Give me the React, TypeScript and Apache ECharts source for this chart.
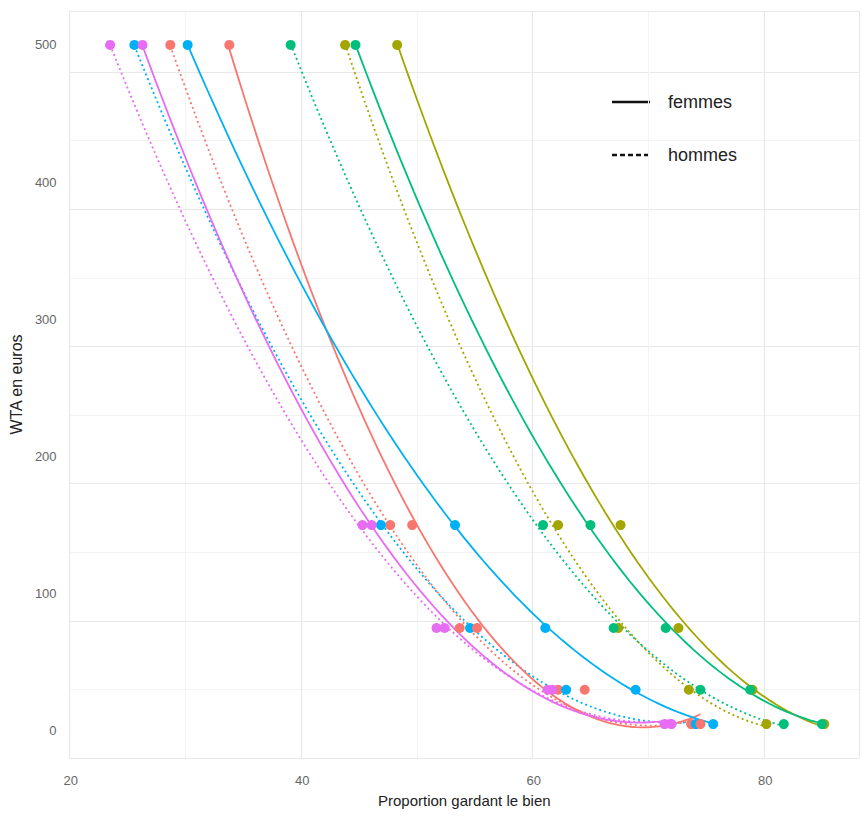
import React, { useEffect, useRef } from "react";
import * as echarts from "echarts";

// WTA levels (y) at which proportions were observed
const wtaLevels = [500, 150, 75, 30, 5];

// group colours (ggplot default hue palette, 5 groups)
const groupColors = ["#F8766D", "#A3A500", "#00BF7D", "#00B0F6", "#E76BF3"];

// proportions keeping the good, women (femmes), per group, aligned with wtaLevels
const femmesRed = [33.7, 49.5, 55.1, 64.4, 74.4];
const femmesOlive = [48.2, 67.5, 72.5, 78.9, 85.1];
const femmesGreen = [44.6, 64.9, 71.4, 78.7, 84.9];
const femmesBlue = [30.1, 53.2, 61.0, 68.8, 75.5];
const femmesMagenta = [26.2, 46.0, 52.3, 61.6, 71.9];

// men (hommes)
const hommesRed = [28.6, 47.6, 53.6, 62.1, 73.6];
const hommesOlive = [43.7, 62.1, 67.3, 73.4, 80.1];
const hommesGreen = [39.0, 60.8, 66.9, 74.4, 81.6];
const hommesBlue = [25.5, 46.8, 54.5, 62.8, 74.0];
const hommesMagenta = [23.4, 45.2, 51.6, 61.2, 71.3];

const femmes = [femmesRed, femmesOlive, femmesGreen, femmesBlue, femmesMagenta];
const hommes = [hommesRed, hommesOlive, hommesGreen, hommesBlue, hommesMagenta];

const xTicks = [20, 40, 60, 80];
const yTicks = [0, 100, 200, 300, 400, 500];

// least-squares quadratic fit y = a + b x + c x^2
function quadFit(xs: number[], ys: number[]) {
  const S = [0, 0, 0, 0, 0];
  const T = [0, 0, 0];
  for (let i = 0; i < xs.length; i++) {
    let p = 1;
    for (let k = 0; k < 5; k++) {
      S[k] += p;
      if (k < 3) T[k] += ys[i] * p;
      p *= xs[i];
    }
  }
  const M = [
    [S[0], S[1], S[2], T[0]],
    [S[1], S[2], S[3], T[1]],
    [S[2], S[3], S[4], T[2]],
  ];
  for (let c = 0; c < 3; c++) {
    let piv = c;
    for (let r = c + 1; r < 3; r++) if (Math.abs(M[r][c]) > Math.abs(M[piv][c])) piv = r;
    [M[c], M[piv]] = [M[piv], M[c]];
    for (let r = 0; r < 3; r++) {
      if (r === c) continue;
      const f = M[r][c] / M[c][c];
      for (let k = c; k < 4; k++) M[r][k] -= f * M[c][k];
    }
  }
  return [M[0][3] / M[0][0], M[1][3] / M[1][1], M[2][3] / M[2][2]];
}

function fitCurve(xs: number[], ys: number[]) {
  const [a, b, c] = quadFit(xs, ys);
  const lo = Math.min(...xs);
  const hi = Math.max(...xs);
  const n = 80;
  const out: number[][] = [];
  for (let i = 0; i <= n; i++) {
    const x = lo + ((hi - lo) * i) / n;
    out.push([x, a + b * x + c * x * x]);
  }
  return out;
}

export default function App() {
  const ref = useRef<HTMLDivElement>(null);
  useEffect(() => {
    document.body.style.margin = "0";
    if (!ref.current) return;
    const chart = echarts.init(ref.current, undefined, { renderer: "svg" });
    const series: any[] = [];
    const addGroup = (sets: number[][], dashed: boolean, label: string) => {
      sets.forEach((xs, gi) => {
        series.push({
          type: "line",
          name: label + gi,
          data: fitCurve(xs, wtaLevels),
          showSymbol: false,
          symbol: "none",
          z: 2,
          lineStyle: {
            color: groupColors[gi],
            width: 1.8,
            type: dashed ? [2, 3] : "solid",
          },
          silent: true,
        });
        series.push({
          type: "scatter",
          name: label + "pts" + gi,
          data: xs.map((x, i) => [x, wtaLevels[i]]),
          symbolSize: 10,
          z: 3,
          itemStyle: { color: groupColors[gi], opacity: 1 },
        });
      });
    };
    addGroup(hommes, true, "hommes");
    addGroup(femmes, false, "femmes");

    chart.setOption({
      animation: false,
      backgroundColor: "#ffffff",
      grid: { left: 66, right: 3, top: 11, bottom: 69, containLabel: false },
      xAxis: {
        type: "value",
        min: 19.9,
        max: 88.1,
        interval: 20,
        name: "Proportion gardant le bien",
        nameLocation: "middle",
        nameGap: 35,
        nameTextStyle: { fontSize: 15, color: "#222", fontFamily: "Liberation Sans, Arial, sans-serif" },
        axisLine: { show: false },
        axisTick: { show: false },
        axisLabel: {
          fontSize: 13,
          color: "#666",
          margin: 16,
          fontFamily: "Liberation Sans, Arial, sans-serif",
          customValues: xTicks,
        },
        splitLine: { show: true, lineStyle: { color: "#E8E8E8", width: 1.2 } },
        minorTick: { show: false, splitNumber: 2 },
        minorSplitLine: { show: true, lineStyle: { color: "#F3F3F3", width: 1 } },
      },
      yAxis: {
        type: "value",
        min: -19.75,
        max: 524.75,
        interval: 100,
        name: "WTA en euros",
        nameLocation: "middle",
        nameGap: 36,
        nameRotate: 90,
        nameTextStyle: { fontSize: 16, color: "#222", fontFamily: "Liberation Sans, Arial, sans-serif" },
        axisLine: { show: false },
        axisTick: { show: false },
        axisLabel: {
          fontSize: 13,
          color: "#666",
          margin: 13,
          fontFamily: "Liberation Sans, Arial, sans-serif",
          customValues: yTicks,
        },
        splitLine: { show: true, lineStyle: { color: "#E8E8E8", width: 1.2 } },
        minorTick: { show: false, splitNumber: 2 },
        minorSplitLine: { show: true, lineStyle: { color: "#F3F3F3", width: 1 } },
      },
      graphic: [
        {
          type: "line",
          shape: { x1: 612, y1: 102, x2: 650, y2: 102 },
          style: { stroke: "#111", lineWidth: 2.5 },
        },
        {
          type: "text",
          x: 668,
          y: 102,
          style: { text: "femmes", fontSize: 18, fill: "#222", verticalAlign: "middle", fontFamily: "Liberation Sans, Arial, sans-serif" },
        },
        {
          type: "line",
          shape: { x1: 612, y1: 155, x2: 650, y2: 155 },
          style: { stroke: "#111", lineWidth: 2.5, lineDash: [5, 3] },
        },
        {
          type: "text",
          x: 668,
          y: 155,
          style: { text: "hommes", fontSize: 18, fill: "#222", verticalAlign: "middle", fontFamily: "Liberation Sans, Arial, sans-serif" },
        },
      ],
      series,
    });
    return () => chart.dispose();
  }, []);
  return <div ref={ref} style={{ width: 862, height: 827 }} />;
}
